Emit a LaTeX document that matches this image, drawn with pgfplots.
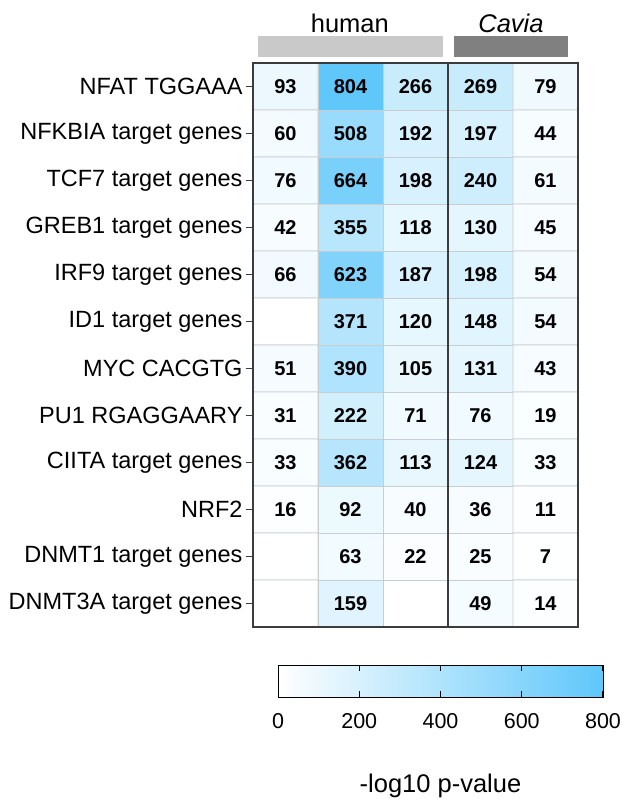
\documentclass[border=0pt]{standalone}
\usepackage{fontspec}
\setmainfont{Liberation Sans}
\usepackage{pgfplots}
\usepackage{pgfplotstable}
\pgfplotsset{compat=1.18}

\definecolor{gridc}{RGB}{200,205,208}
\definecolor{framec}{RGB}{60,60,60}
\definecolor{cbmax}{RGB}{95,199,250}
\pgfplotsset{colormap={lblue}{rgb255(0)=(255,255,255) rgb255(800)=(95,199,250)}}

% x = column, y = row (0 = top); v = value (blank cells = 0), lab = printed number
\pgfplotstableread{
x y v lab
0 0 93 93
1 0 804 804
2 0 266 266
3 0 269 269
4 0 79 79
0 1 60 60
1 1 508 508
2 1 192 192
3 1 197 197
4 1 44 44
0 2 76 76
1 2 664 664
2 2 198 198
3 2 240 240
4 2 61 61
0 3 42 42
1 3 355 355
2 3 118 118
3 3 130 130
4 3 45 45
0 4 66 66
1 4 623 623
2 4 187 187
3 4 198 198
4 4 54 54
0 5 0 {}
1 5 371 371
2 5 120 120
3 5 148 148
4 5 54 54
0 6 51 51
1 6 390 390
2 6 105 105
3 6 131 131
4 6 43 43
0 7 31 31
1 7 222 222
2 7 71 71
3 7 76 76
4 7 19 19
0 8 33 33
1 8 362 362
2 8 113 113
3 8 124 124
4 8 33 33
0 9 16 16
1 9 92 92
2 9 40 40
3 9 36 36
4 9 11 11
0 10 0 {}
1 10 63 63
2 10 22 22
3 10 25 25
4 10 7 7
0 11 0 {}
1 11 159 159
2 11 0 {}
3 11 49 49
4 11 14 14
}\hmdata

\begin{document}
\begin{tikzpicture}
\begin{axis}[
  name=hm,
  scale only axis,
  width=325pt, height=564pt,
  xmin=-0.5, xmax=4.5, ymin=-0.5, ymax=11.5,
  y dir=reverse,
  clip=false,
  axis line style={draw=framec, line width=1.3pt},
  xtick=\empty,
  ytick={0,...,11},
  yticklabels={NFAT TGGAAA, NFKBIA target genes, TCF7 target genes, GREB1 target genes, IRF9 target genes, ID1 target genes, MYC CACGTG, PU1 RGAGGAARY, CIITA target genes, NRF2, DNMT1 target genes, DNMT3A target genes},
  ytick pos=left,
  tick align=outside,
  major tick length=7pt,
  ytick style={draw=framec, line width=1pt},
  yticklabel style={font=\fontsize{23.5}{27}\selectfont},
  yticklabel shift=0pt,
  colormap name=lblue,
  point meta min=0, point meta max=800,
]
\addplot[matrix plot*, mesh/cols=5, mesh/ordering=x varies,
  point meta=\thisrow{v}, draw=gridc, line width=0.8pt]
  table[x=x, y=y] {\hmdata};
\addplot[draw=none, mark=none, nodes near coords,
  point meta=explicit symbolic,
  nodes near coords align={center},
  every node near coord/.append style={anchor=center, font=\fontsize{20}{24}\selectfont\bfseries, text=black}]
  table[x=x, y=y, meta=lab] {\hmdata};
% separator between groups and frame
\draw[framec, line width=1.3pt] (axis cs:2.5,-0.5) -- (axis cs:2.5,11.5);
\draw[framec, line width=1.3pt] (axis cs:-0.5,-0.5) rectangle (axis cs:4.5,11.5);
% group headers
\fill[black!21] (axis cs:-0.423,-1.074) rectangle (axis cs:2.423,-0.628);
\fill[black!50] (axis cs:2.592,-1.074) rectangle (axis cs:4.346,-0.628);
\node[anchor=base, font=\fontsize{25.5}{30}\selectfont, inner sep=0pt] at (axis cs:0.99,-1.14) {human};
\node[anchor=base, font=\fontsize{25.5}{30}\selectfont\itshape, inner sep=0pt] at (axis cs:3.469,-1.14) {Cavia};
\end{axis}
% colour scale
\begin{axis}[
  name=cb,
  at={(hm.south west)}, anchor=north west,
  xshift=25pt, yshift=-38pt,
  scale only axis,
  width=325pt, height=32pt,
  xmin=0, xmax=800, ymin=0, ymax=1,
  axis on top,
  clip=false,
  axis line style={draw=black, line width=1pt},
  ytick=\empty,
  xtick={0,200,...,800},
  major tick length=0pt,
  xticklabel style={font=\fontsize{21.5}{25}\selectfont, /pgf/number format/assume math mode=true},
  xticklabel shift=13pt,
  xlabel={-log10 p-value},
  xlabel style={font=\fontsize{25.5}{30}\selectfont, yshift=-38pt},
]
\shade[left color=white, right color=cbmax] (axis cs:0,0) rectangle (axis cs:800,1);
\pgfplotsinvokeforeach{200,400,600,799}{
  \draw[black, line width=1pt] (axis cs:#1,0) -- ++(0,6pt);
  \draw[black, line width=1pt] (axis cs:#1,1) -- ++(0,-6pt);
}
\draw[black, line width=1pt] (axis cs:0,0) rectangle (axis cs:800,1);
\end{axis}
\pgfresetboundingbox
\path[use as bounding box] ([xshift=-253pt, yshift=-172pt]hm.south west) rectangle ([xshift=368pt, yshift=627pt]hm.south west);
\end{tikzpicture}
\end{document}
